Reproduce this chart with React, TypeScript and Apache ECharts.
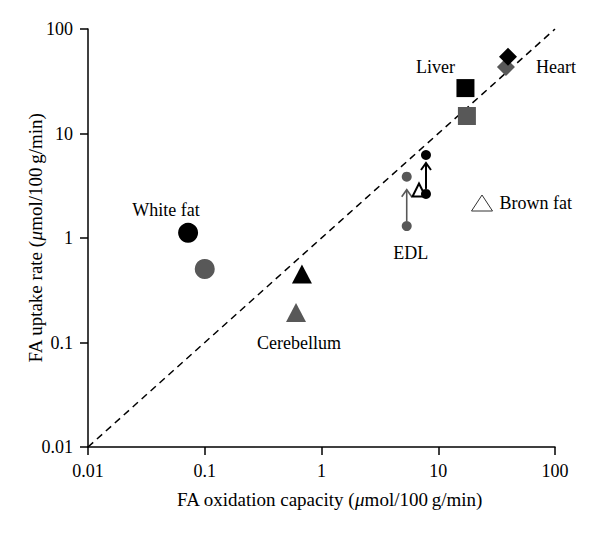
import React, { useEffect, useRef } from "react";
import * as echarts from "echarts";

// Tick labels (log axes, base 10)
const tickLabels = ["0.01", "0.1", "1", "10", "100"];

// Tissues, black (upper / first condition) and gray (second condition)
const tissues = ["White fat", "Cerebellum", "EDL", "Liver", "Heart"];
const oxidationBlack = [0.072, 0.68, 7.85, 17.1, 39.6];
const uptakeBlack = [1.12, 0.453, 6.23, 27.2, 54.3];
const oxidationGray = [0.1, 0.605, 5.37, 17.6, 38.0];
const uptakeGray = [0.505, 0.194, 3.86, 14.7, 43.3];

// EDL starting values of the arrows (before -> after)
const edlBlackBefore = [7.85, 2.64];
const edlGrayBefore = [5.37, 1.3];

// Brown fat (open triangle)
const brownFat = [6.84, 2.88];

// Diagonal identity line
const identityLine = [
  [0.01, 0.01],
  [100, 100],
];

const FONT = "'Liberation Serif', 'DejaVu Serif', serif";
const BLACK = "#000000";
const GRAY = "#585858";
const LABEL_SIZE = 18;
const TITLE_SIZE = 19;

const symbols = ["circle", "triangle", "circle", "rect", "diamond"];
const sizes: any[] = [20, [20, 19], 10, 18, 18];

const labelOffsets: Record<string, number[]> = {
  "White fat": [-22, -23],
  Liver: [-30, -21],
  Heart: [48, 10],
};
const grayLabelOffsets: Record<string, number[]> = {
  Cerebellum: [3, 31],
};

function textLabel(text: string, offset: number[]) {
  return {
    show: true,
    position: "inside",
    offset,
    formatter: text,
    color: BLACK,
    fontFamily: FONT,
    fontSize: LABEL_SIZE,
  };
}

function arrowSeries(data: number[][], color: string, width: number, tipGap: number) {
  return {
    type: "custom",
    silent: true,
    z: 3,
    data,
    renderItem: (params: any, api: any) => {
      const x = api.value(0);
      const p0 = api.coord([x, api.value(1)]);
      const p1 = api.coord([x, api.value(2)]);
      const tipY = p1[1] + tipGap;
      return {
        type: "group",
        children: [
          {
            type: "line",
            shape: { x1: p0[0], y1: p0[1] - 5, x2: p1[0], y2: tipY },
            style: { stroke: color, lineWidth: width },
          },
          {
            type: "polyline",
            shape: {
              points: [
                [p1[0] - 5, tipY + 7],
                [p1[0], tipY],
                [p1[0] + 5, tipY + 7],
              ],
            },
            style: { stroke: color, lineWidth: width, fill: "none" },
          },
        ],
      };
    },
  };
}

export default function App() {
  const ref = useRef<HTMLDivElement>(null);

  useEffect(() => {
    if (!ref.current) return;
    const chart = echarts.init(ref.current, null, { renderer: "svg" });

    const fmt = (v: number) => tickLabels[Math.round(Math.log10(v)) + 2] ?? String(v);

    const axisCommon = {
      type: "log",
      logBase: 10,
      min: 0.01,
      max: 100,
      nameLocation: "middle",
      nameMoveOverlap: false,
      axisLine: { lineStyle: { color: BLACK, width: 1.5 } },
      axisTick: { show: true, length: 8, inside: false, lineStyle: { color: BLACK, width: 1.5 } },
      minorTick: { show: false },
      splitLine: { show: false },
      axisLabel: { color: BLACK, fontFamily: FONT, fontSize: 18, formatter: fmt, margin: 15 },
      nameTextStyle: {
        color: BLACK,
        fontFamily: FONT,
        fontSize: TITLE_SIZE,
        rich: {
          i: { fontStyle: "italic", fontFamily: FONT, fontSize: TITLE_SIZE, color: BLACK },
        },
      },
    };

    const grayData = tissues.map((t, i) => ({
      name: t,
      value: [oxidationGray[i], uptakeGray[i]],
      symbol: symbols[i],
      symbolSize: sizes[i],
      label: grayLabelOffsets[t] ? textLabel(t, grayLabelOffsets[t]) : { show: false },
    }));

    const blackData = tissues.map((t, i) => ({
      name: t,
      value: [oxidationBlack[i], uptakeBlack[i]],
      symbol: symbols[i],
      symbolSize: sizes[i],
      label: labelOffsets[t] ? textLabel(t, labelOffsets[t]) : { show: false },
    }));

    chart.setOption({
      animation: false,
      backgroundColor: "#ffffff",
      grid: { left: 88, right: 45, top: 29, bottom: 86, containLabel: false },
      legend: {
        show: true,
        left: 466,
        top: 189,
        itemWidth: 21,
        itemHeight: 16,
        selectedMode: false,
        data: [
          {
            name: "Brown fat",
            icon: "triangle",
            itemStyle: { color: "transparent", borderColor: "#333333", borderWidth: 1 },
          },
        ],
        textStyle: { color: BLACK, fontFamily: FONT, fontSize: LABEL_SIZE, padding: [0, 0, 0, 2] },
      },
      xAxis: {
        ...axisCommon,
        name: "FA oxidation capacity ({i|μ}mol/100\u2009g/min)",
        nameGap: 43,
        nameTextStyle: { ...axisCommon.nameTextStyle, padding: [0, 0, 0, 16] },
      },
      yAxis: {
        ...axisCommon,
        name: "FA uptake rate ({i|μ}mol/100\u2009g/min)",
        nameGap: 43,
        nameRotate: 90,
      },
      series: [
        {
          type: "line",
          data: identityLine,
          symbol: "none",
          silent: true,
          z: 1,
          lineStyle: { color: BLACK, width: 1.5, type: [7, 5] },
        },
        {
          type: "scatter",
          name: "gray",
          z: 2,
          itemStyle: { color: GRAY, opacity: 1 },
          data: grayData,
        },
        {
          type: "scatter",
          name: "EDL before",
          z: 2,
          symbol: "circle",
          symbolSize: 10,
          itemStyle: { color: GRAY, opacity: 1 },
          label: textLabel("EDL", [4, 27]),
          data: [{ name: "EDL", value: edlGrayBefore }],
        },
        {
          type: "scatter",
          name: "Brown fat",
          z: 3,
          symbol: "triangle",
          symbolSize: 13,
          itemStyle: { color: "#ffffff", borderColor: BLACK, borderWidth: 2, opacity: 1 },
          data: [brownFat],
        },
        arrowSeries([[edlGrayBefore[0], edlGrayBefore[1], uptakeGray[2]]], GRAY, 1.6, 13),
        arrowSeries([[edlBlackBefore[0], edlBlackBefore[1], uptakeBlack[2]]], BLACK, 2, 8),
        {
          type: "scatter",
          name: "black",
          z: 4,
          itemStyle: { color: BLACK, opacity: 1 },
          data: blackData,
        },
        {
          type: "scatter",
          name: "EDL before black",
          z: 4,
          itemStyle: { color: BLACK, opacity: 1 },
          symbol: "circle",
          symbolSize: 10,
          data: [edlBlackBefore],
        },
      ],
    });

    return () => chart.dispose();
  }, []);

  return <div ref={ref} style={{ width: 600, height: 533, margin: -8 }} />;
}
